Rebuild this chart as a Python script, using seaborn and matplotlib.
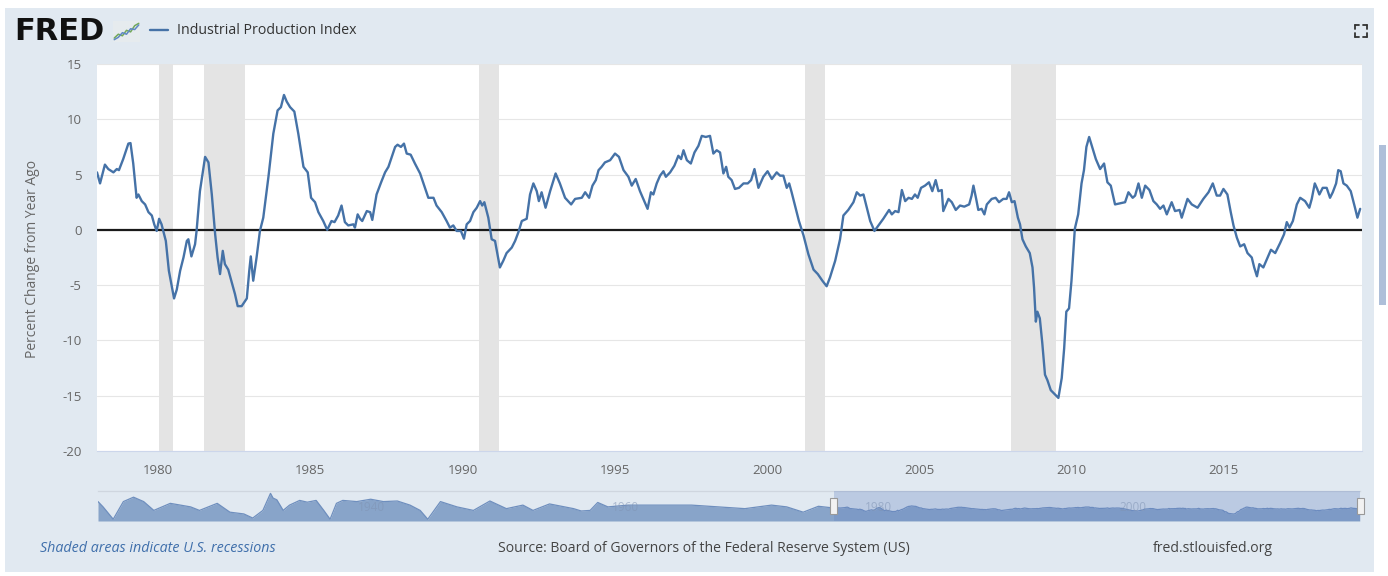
import matplotlib
matplotlib.use("Agg")
import matplotlib.pyplot as plt
import seaborn as sns
import pandas as pd
from matplotlib.patches import Rectangle
from matplotlib.lines import Line2D

# ---------------- data ----------------
dates = [
    1978.00, 1978.10, 1978.26, 1978.37, 1978.54, 1978.65, 1978.72, 1978.86, 1979.03, 1979.10,
    1979.19, 1979.30, 1979.36, 1979.47, 1979.58, 1979.69, 1979.80, 1979.88, 1979.96, 1980.04,
    1980.12, 1980.26, 1980.36, 1980.53, 1980.62, 1980.73, 1980.84, 1980.95, 1981.00, 1981.10,
    1981.22, 1981.27, 1981.38, 1981.55, 1981.66, 1981.77, 1981.88, 1981.96, 1982.04, 1982.13,
    1982.20, 1982.31, 1982.44, 1982.53, 1982.62, 1982.75, 1982.92, 1983.00, 1983.05, 1983.13,
    1983.24, 1983.35, 1983.46, 1983.63, 1983.79, 1983.93, 1984.04, 1984.14, 1984.23, 1984.34,
    1984.48, 1984.61, 1984.78, 1984.92, 1985.03, 1985.16, 1985.27, 1985.43, 1985.56, 1985.70,
    1985.80, 1985.92, 1986.03, 1986.14, 1986.25, 1986.42, 1986.47, 1986.56, 1986.64, 1986.71,
    1986.86, 1986.97, 1987.04, 1987.18, 1987.33, 1987.46, 1987.57, 1987.68, 1987.79, 1987.87,
    1987.98, 1988.08, 1988.17, 1988.30, 1988.44, 1988.61, 1988.77, 1988.88, 1989.05, 1989.15,
    1989.32, 1989.48, 1989.59, 1989.70, 1989.81, 1989.95, 1990.05, 1990.14, 1990.25, 1990.36,
    1990.47, 1990.58, 1990.65, 1990.72, 1990.85, 1990.96, 1991.07, 1991.23, 1991.34, 1991.45,
    1991.62, 1991.73, 1991.84, 1991.95, 1992.11, 1992.22, 1992.33, 1992.44, 1992.51, 1992.60,
    1992.73, 1992.88, 1993.06, 1993.20, 1993.37, 1993.57, 1993.70, 1993.92, 1994.03, 1994.16,
    1994.27, 1994.38, 1994.47, 1994.57, 1994.68, 1994.85, 1995.01, 1995.14, 1995.29, 1995.45,
    1995.56, 1995.69, 1995.83, 1995.97, 1996.08, 1996.19, 1996.27, 1996.38, 1996.49, 1996.60,
    1996.68, 1996.82, 1996.96, 1997.09, 1997.18, 1997.26, 1997.37, 1997.50, 1997.62, 1997.75,
    1997.86, 1997.99, 1998.13, 1998.24, 1998.35, 1998.46, 1998.57, 1998.66, 1998.73, 1998.84,
    1998.95, 1999.08, 1999.23, 1999.37, 1999.48, 1999.59, 1999.72, 1999.88, 2000.02, 2000.16,
    2000.32, 2000.43, 2000.54, 2000.65, 2000.73, 2000.81, 2000.92, 2001.05, 2001.20, 2001.36,
    2001.53, 2001.67, 2001.82, 2001.96, 2002.07, 2002.24, 2002.40, 2002.51, 2002.67, 2002.84,
    2002.95, 2003.06, 2003.17, 2003.28, 2003.39, 2003.53, 2003.66, 2003.82, 2004.01, 2004.10,
    2004.21, 2004.32, 2004.43, 2004.54, 2004.65, 2004.76, 2004.86, 2004.95, 2005.06, 2005.19,
    2005.32, 2005.43, 2005.54, 2005.63, 2005.74, 2005.79, 2005.96, 2006.07, 2006.20, 2006.34,
    2006.48, 2006.64, 2006.72, 2006.78, 2006.87, 2006.94, 2007.05, 2007.14, 2007.22, 2007.38,
    2007.51, 2007.62, 2007.76, 2007.87, 2007.95, 2008.04, 2008.13, 2008.24, 2008.31, 2008.39,
    2008.50, 2008.63, 2008.72, 2008.77, 2008.83, 2008.88, 2008.96, 2009.04, 2009.13, 2009.21,
    2009.32, 2009.46, 2009.57, 2009.68, 2009.76, 2009.83, 2009.92, 2010.00, 2010.11, 2010.22,
    2010.33, 2010.41, 2010.49, 2010.58, 2010.68, 2010.80, 2010.94, 2011.07, 2011.18, 2011.29,
    2011.43, 2011.60, 2011.76, 2011.87, 2012.01, 2012.09, 2012.20, 2012.31, 2012.42, 2012.56,
    2012.69, 2012.80, 2012.91, 2013.02, 2013.13, 2013.29, 2013.40, 2013.55, 2013.62, 2013.81,
    2013.95, 2014.14, 2014.33, 2014.50, 2014.64, 2014.77, 2014.88, 2014.99, 2015.12, 2015.23,
    2015.32, 2015.43, 2015.54, 2015.67, 2015.78, 2015.92, 2016.00, 2016.09, 2016.17, 2016.30,
    2016.41, 2016.55, 2016.69, 2016.85, 2016.98, 2017.07, 2017.16, 2017.27, 2017.40, 2017.51,
    2017.67, 2017.81, 2017.89, 2017.99, 2018.07, 2018.14, 2018.25, 2018.38, 2018.49, 2018.58,
    2018.69, 2018.76, 2018.84, 2018.93, 2019.04, 2019.17, 2019.31, 2019.39, 2019.48,
]
ip_yoy = [
    5.2, 4.2, 5.9, 5.5, 5.2, 5.5, 5.4, 6.4, 7.8, 7.85,
    6.0, 2.9, 3.2, 2.6, 2.3, 1.6, 1.3, 0.5, -0.1, 1.0,
    0.5, -1.0, -3.7, -6.2, -5.4, -3.7, -2.5, -1.0, -0.85, -2.4,
    -1.3, -0.1, 3.5, 6.6, 6.1, 3.2, -0.4, -2.5, -4.0, -1.9,
    -3.1, -3.6, -4.9, -5.8, -6.9, -6.9, -6.2, -3.7, -2.4, -4.6,
    -2.5, -0.1, 1.1, 4.8, 8.7, 10.8, 11.1, 12.2, 11.6, 11.1,
    10.7, 8.7, 5.7, 5.2, 2.9, 2.5, 1.6, 0.8, 0.0, 0.8,
    0.7, 1.3, 2.2, 0.7, 0.4, 0.5, 0.2, 1.4, 1.0, 0.8,
    1.7, 1.6, 0.9, 3.2, 4.3, 5.2, 5.7, 6.6, 7.5, 7.7,
    7.5, 7.8, 6.9, 6.8, 6.0, 5.1, 3.8, 2.9, 2.9, 2.2,
    1.6, 0.8, 0.2, 0.4, -0.1, -0.1, -0.8, 0.5, 0.8, 1.6,
    2.0, 2.6, 2.2, 2.5, 1.1, -0.85, -1.0, -3.4, -2.8, -2.1,
    -1.6, -1.0, -0.2, 0.8, 1.0, 3.2, 4.2, 3.5, 2.6, 3.4,
    2.0, 3.5, 5.1, 4.2, 2.9, 2.3, 2.8, 2.9, 3.4, 2.9,
    4.0, 4.5, 5.4, 5.7, 6.1, 6.3, 6.9, 6.6, 5.4, 4.8,
    4.0, 4.6, 3.5, 2.6, 1.9, 3.4, 3.2, 4.2, 4.9, 5.3,
    4.8, 5.2, 5.8, 6.7, 6.4, 7.2, 6.3, 6.0, 7.0, 7.6,
    8.5, 8.4, 8.5, 6.9, 7.2, 7.0, 5.1, 5.7, 4.8, 4.5,
    3.7, 3.8, 4.2, 4.2, 4.5, 5.5, 3.8, 4.8, 5.3, 4.6,
    5.2, 4.9, 4.9, 3.8, 4.2, 3.4, 2.2, 0.8, -0.5, -2.2,
    -3.6, -4.0, -4.6, -5.1, -4.3, -2.8, -0.85, 1.3, 1.8, 2.5,
    3.4, 3.1, 3.2, 2.0, 0.8, -0.1, 0.4, 1.0, 1.8, 1.4,
    1.7, 1.6, 3.6, 2.6, 2.9, 2.8, 3.2, 2.9, 3.8, 4.0,
    4.3, 3.5, 4.5, 3.5, 3.6, 1.7, 2.8, 2.5, 1.8, 2.2,
    2.1, 2.3, 3.1, 4.0, 2.8, 1.8, 1.9, 1.4, 2.3, 2.8,
    2.9, 2.5, 2.8, 2.8, 3.4, 2.5, 2.6, 1.1, 0.5, -0.85,
    -1.5, -2.1, -3.4, -5.2, -8.3, -7.4, -8.0, -10.2, -13.1, -13.6,
    -14.5, -14.9, -15.2, -13.4, -10.7, -7.4, -7.1, -4.6, 0.1, 1.4,
    4.2, 5.4, 7.5, 8.4, 7.5, 6.4, 5.5, 6.0, 4.3, 4.0,
    2.3, 2.4, 2.5, 3.4, 2.9, 3.1, 4.2, 2.9, 4.0, 3.6,
    2.6, 2.3, 1.9, 2.2, 1.4, 2.5, 1.7, 1.8, 1.1, 2.8,
    2.3, 2.0, 2.8, 3.4, 4.2, 3.1, 3.1, 3.7, 3.2, 1.6,
    0.4, -0.7, -1.5, -1.3, -2.1, -2.5, -3.4, -4.2, -3.1, -3.4,
    -2.7, -1.8, -2.1, -1.2, -0.4, 0.7, 0.2, 0.8, 2.3, 2.9,
    2.6, 2.0, 2.8, 4.2, 3.7, 3.2, 3.8, 3.8, 2.9, 3.4,
    4.2, 5.4, 5.3, 4.2, 4.0, 3.5, 2.0, 1.1, 1.9,
]

# navigator (full history) values read before 1978
nav_early_dates = [
    1920.0, 1920.4, 1921.2, 1922.0, 1922.8, 1923.6, 1924.4, 1925.7, 1927.3, 1928.0,
    1929.4, 1930.4, 1931.5, 1932.2, 1933.0, 1933.6, 1933.8, 1934.1, 1934.6, 1935.1,
    1935.9, 1936.5, 1937.2, 1937.8, 1938.3, 1938.8, 1939.3, 1940.4, 1941.5, 1942.5,
    1943.6, 1944.6, 1945.4, 1946.0, 1947.0, 1948.3, 1949.6, 1950.9, 1952.2, 1953.5,
    1954.3, 1955.6, 1957.5, 1958.1, 1958.8, 1959.4, 1960.2, 1961.8, 1963.1, 1964.8,
    1966.8, 1968.9, 1971.0, 1973.1, 1974.3, 1975.6, 1976.8,
]
nav_early_values = [
    27, 9, -33, 27, 42, 27, -3, 21, 9, -3,
    21, -9, -15, -29, -3, 55, 39, 33, -3, 15,
    31, 25, 31, -3, -33, 21, 31, 27, 35, 27,
    29, 15, -3, -33, 27, 9, -3, 29, 3, 15,
    -3, 19, 3, -5, -3, 24, 9, 15, 15, 15,
    15, 9, 3, 15, 9, -9, 11,
]

recession_start = [1980.04, 1981.52, 1990.56, 2001.24, 2008.02]
recession_end = [1980.50, 1982.87, 1991.20, 2001.89, 2009.49]

y_ticks = [-20, -15, -10, -5, 0, 5, 10, 15]
x_ticks = [1980, 1985, 1990, 1995, 2000, 2005, 2010, 2015]
nav_label_years = [1940, 1960, 1980, 2000]

series_name = "Industrial Production Index"
x_min, x_max = 1978.0, 2019.54
nav_min, nav_max = 1920.0, 2019.5

# ---------------- style ----------------
sns.set_theme(style="white")
plt.rcParams['font.family'] = ['Open Sans', 'DejaVu Sans']

BG = '#e1e9f1'
LINE = '#4572a7'
W, H = 1388, 576

def fx(px):
    return px / W

def fy(py):
    return 1 - py / H

fig = plt.figure(figsize=(W / 100, H / 100), dpi=100, facecolor='white')
fig.add_artist(Rectangle((fx(5), fy(572)), fx(1374) - fx(5), fy(8) - fy(572),
                         transform=fig.transFigure, facecolor=BG, edgecolor='none', zorder=-10))
# page scrollbar strip on the right edge
fig.add_artist(Rectangle((fx(1379), fy(305)), fx(1386) - fx(1379), fy(145) - fy(305),
                         transform=fig.transFigure, facecolor='#aebfd9', edgecolor='none', zorder=-9))

df = pd.DataFrame({"date": dates, "value": ip_yoy})

ax = fig.add_axes([fx(97), fy(451), fx(1362) - fx(97), fy(64) - fy(451)])
ax.set_facecolor('white')
for yv in y_ticks:
    ax.axhline(yv, color='#e6e6e6', lw=0.8, zorder=0)
for s, e in zip(recession_start, recession_end):
    ax.axvspan(s, e, color='#e4e4e4', lw=0, zorder=1)
ax.axhline(0, color='#1a1a1a', lw=1.6, zorder=2)
sns.lineplot(data=df, x="date", y="value", ax=ax, color=LINE, lw=1.7,
             estimator=None, sort=False, zorder=3, label=series_name, legend=False)
ax.set_xlim(x_min, x_max)
ax.set_ylim(y_ticks[0], y_ticks[-1])
ax.set_yticks(y_ticks)
ax.set_yticklabels([str(v) for v in y_ticks])
ax.set_xticks(x_ticks)
ax.set_xticklabels([str(v) for v in x_ticks])
ax.tick_params(axis='y', length=0, pad=11, labelcolor='#666666', labelsize=9.5)
ax.tick_params(axis='x', length=5, width=0.8, color='#ccd6eb', pad=4,
               labelcolor='#666666', labelsize=9.5)
for side in ['top', 'right', 'left']:
    ax.spines[side].set_visible(False)
ax.spines['bottom'].set_color('#ccd6eb')
ax.spines['bottom'].set_linewidth(0.8)
ax.set_xlabel('')
ax.set_ylabel('')
fig.text(fx(33), fy(259), 'Percent Change from Year Ago', rotation=90,
         ha='center', va='center', color='#666666', fontsize=10)

# legend in header
handles, labels = ax.get_legend_handles_labels()
leg = ax.legend(handles, labels, loc='center left', bbox_to_anchor=(fx(150), fy(31)),
                bbox_transform=fig.transFigure, frameon=False, handlelength=1.3,
                handletextpad=0.6, fontsize=10.2, borderaxespad=0, borderpad=0)
for t in leg.get_texts():
    t.set_color('#333333')

# ---------------- navigator ----------------
nav = fig.add_axes([fx(98), fy(521), fx(1360) - fx(98), fy(491) - fy(521)])
nav.set_facecolor(BG)
nav_dates = nav_early_dates + dates
nav_values = nav_early_values + ip_yoy
nav_floor = -39
nav.fill_between(nav_dates, nav_values, nav_floor, color='#88a4c9', lw=0, zorder=1)
sns.lineplot(x=nav_dates, y=nav_values, ax=nav, color='#6f8fbe', lw=0.9,
             estimator=None, sort=False, zorder=2)
nav.axvspan(x_min, x_max, color='#6685c2', alpha=0.3, lw=0, zorder=3)
nav.set_xlim(nav_min, nav_max)
nav.set_ylim(nav_floor, 63)
nav.set_xticks([])
nav.set_yticks([])
nav.set_xlabel('')
nav.set_ylabel('')
for side in ['bottom', 'right', 'left']:
    nav.spines[side].set_visible(False)
nav.spines['top'].set_color('#cfd6df')
nav.spines['top'].set_linewidth(0.9)
for yr in nav_label_years:
    nav.text(yr + 0.5, 0.22, str(yr), color='#7f93b3', alpha=0.55, fontsize=8.5,
             ha='left', va='bottom', transform=nav.get_xaxis_transform(), zorder=4)
# handles at the selected range ends
hw = 0.28
for xe in [x_min, x_max]:
    nav.add_patch(Rectangle((xe - hw, 0.22), 2 * hw, 0.56, transform=nav.get_xaxis_transform(),
                            facecolor='#f2f2f2', edgecolor='#999999', lw=0.8, zorder=5,
                            clip_on=False))

# ---------------- header / footer ----------------
fig.text(fx(14), fy(32), 'FRED', fontsize=22, fontweight='heavy', color='#111111',
         va='center', ha='left', family=['DejaVu Sans'])
icon = fig.add_axes([fx(113), fy(42), fx(140) - fx(113), fy(21) - fy(42)])
icon_x = [0, 1, 2, 3, 4, 5, 6]
icon_green = [1.0, 2.0, 1.6, 3.0, 2.6, 4.2, 4.8]
icon_blue = [0.6, 1.2, 2.4, 2.0, 3.4, 3.2, 4.4]
icon.set_facecolor('#e6ebee')
icon.plot(icon_x, icon_green, color='#72a85a', lw=1.1)
icon.plot(icon_x, icon_blue, color='#5f88c4', lw=1.1)
icon.set_xlim(-0.3, 6.3)
icon.set_ylim(0, 5.4)
icon.set_xticks([])
icon.set_yticks([])
for sp in icon.spines.values():
    sp.set_visible(False)

# full-screen corner icon
cx0, cx1, cy0, cy1, arm = 1355, 1367, 25, 37, 4
corner_color = '#333333'
for (px, py, dx, dy) in [(cx0, cy0, 1, 1), (cx1, cy0, -1, 1), (cx0, cy1, 1, -1), (cx1, cy1, -1, -1)]:
    fig.add_artist(Line2D([fx(px), fx(px + dx * arm)], [fy(py), fy(py)], color=corner_color, lw=1.3))
    fig.add_artist(Line2D([fx(px), fx(px)], [fy(py), fy(py + dy * arm)], color=corner_color, lw=1.3))

fig.text(fx(40), fy(549), 'Shaded areas indicate U.S. recessions', style='italic',
         color='#3f6fab', fontsize=10.3, va='center', ha='left')
fig.text(fx(498), fy(549), 'Source: Board of Governors of the Federal Reserve System (US)',
         color='#444444', fontsize=10.1, va='center', ha='left')
fig.text(fx(1153), fy(549), 'fred.stlouisfed.org', color='#444444', fontsize=10.1,
         va='center', ha='left')

fig.savefig('out.png', dpi=100, facecolor=fig.get_facecolor())
